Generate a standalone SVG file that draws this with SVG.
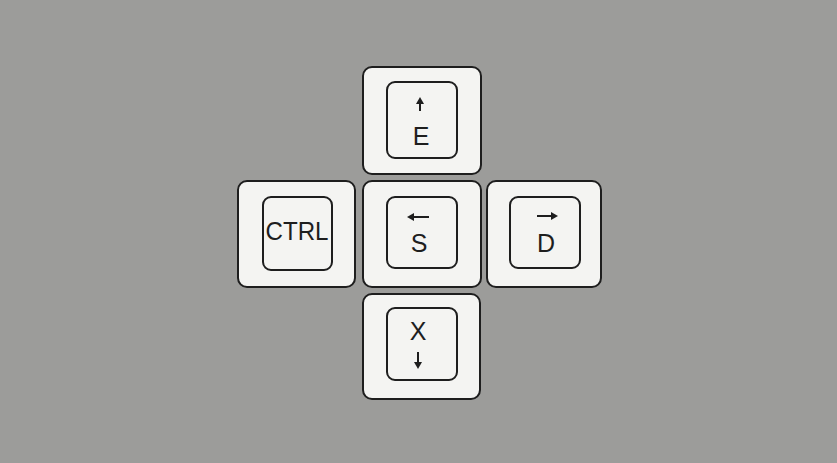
<svg xmlns="http://www.w3.org/2000/svg" width="837" height="463" viewBox="0 0 837 463">
<defs>
<style>
.outer{fill:#f4f4f2;stroke:#1e1e1e;stroke-width:2}
.inner{fill:#f4f4f2;stroke:#1e1e1e;stroke-width:2}
.lbl{font-family:"Liberation Sans",Arial,sans-serif;font-size:25px;fill:#1e1e1e;text-anchor:middle}
.arr{stroke:#1e1e1e;stroke-width:2;fill:none}
.head{fill:#1e1e1e}
</style>
</defs>
<rect width="837" height="463" fill="#9c9c9a"/>
<g id="key-e">
<rect class="outer" x="363" y="67" width="118" height="107" rx="9"/>
<rect class="inner" x="387" y="82" width="70" height="76" rx="8"/>
<line class="arr" x1="420" y1="103" x2="420" y2="111"/>
<polygon class="head" points="416,104 420,97 424,104"/>
<text class="lbl" x="421" y="145">E</text>
</g>
<g id="key-ctrl">
<rect class="outer" x="238" y="181" width="117" height="106" rx="9"/>
<rect class="inner" x="263" y="197" width="69" height="73" rx="8"/>
<text class="lbl" x="297" y="240" font-size="26" textLength="63" lengthAdjust="spacingAndGlyphs">CTRL</text>
</g>
<g id="key-s">
<rect class="outer" x="363" y="181" width="118" height="106" rx="9"/>
<rect class="inner" x="387" y="197" width="70" height="71" rx="8"/>
<line class="arr" x1="413" y1="217" x2="429" y2="217"/>
<polygon class="head" points="414,213 407,217 414,221"/>
<text class="lbl" x="419" y="252">S</text>
</g>
<g id="key-d">
<rect class="outer" x="487" y="181" width="114" height="106" rx="9"/>
<rect class="inner" x="510" y="197" width="70" height="71" rx="8"/>
<line class="arr" x1="537" y1="216" x2="552" y2="216"/>
<polygon class="head" points="551,212 558,216 551,220"/>
<text class="lbl" x="546" y="252">D</text>
</g>
<g id="key-x">
<rect class="outer" x="363" y="294" width="117" height="105" rx="9"/>
<rect class="inner" x="387" y="308" width="70" height="72" rx="8"/>
<text class="lbl" x="418" y="340">X</text>
<line class="arr" x1="418" y1="352" x2="418" y2="363"/>
<polygon class="head" points="414,362 418,369 422,362"/>
</g>
<g id="connectors"/>
</svg>
